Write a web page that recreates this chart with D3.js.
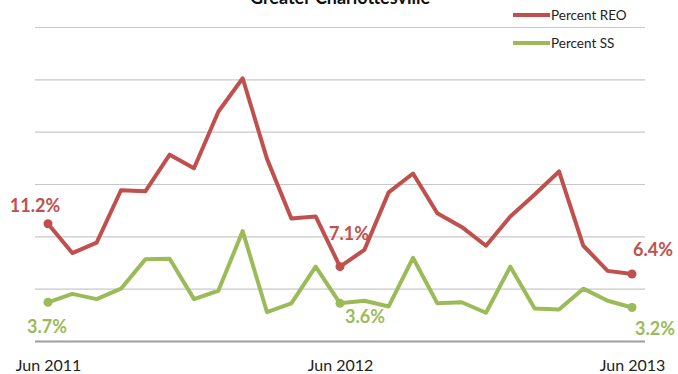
<!DOCTYPE html>
<html lang="en">
<head>
<meta charset="UTF-8">
<title>Greater Charlottesville</title>
<script src="https://d3js.org/d3.v7.min.js"></script>
<style>
body { margin: 0; background: #fff; }
svg { display: block; }
text { font-family: Lato, "Open Sans", sans-serif; }
</style>
</head>
<body>
<script>
const months = ["Jun 2011","Jul 2011","Aug 2011","Sep 2011","Oct 2011","Nov 2011","Dec 2011",
    "Jan 2012","Feb 2012","Mar 2012","Apr 2012","May 2012","Jun 2012","Jul 2012","Aug 2012",
    "Sep 2012","Oct 2012","Nov 2012","Dec 2012","Jan 2013","Feb 2013","Mar 2013","Apr 2013",
    "May 2013","Jun 2013"]
const reo = [11.2, 8.4, 9.4, 14.4, 14.3, 17.8, 16.5, 21.9, 25.1, 17.4, 11.7, 11.9, 7.1,
    8.7, 14.2, 16.0, 12.2, 10.9, 9.1, 11.9, 14.0, 16.2, 9.1, 6.7, 6.4]
const ss = [3.7, 4.5, 4.0, 5.0, 7.8, 7.85, 4.0, 4.8, 10.5, 2.75, 3.6, 7.1, 3.6,
    3.85, 3.3, 7.95, 3.6, 3.7, 2.7, 7.1, 3.1, 3.0, 5.0, 3.85, 3.2]
const yTicks = [0, 5, 10, 15, 20, 25, 30]
const xTicks = ["Jun 2011", "Jun 2012", "Jun 2013"]
const labelled = [0, 12, 24]

const width = 678, height = 374
const red = "#c0504d", green = "#9bbb59"

const svg = d3.select("body").append("svg")
    .attr("width", width).attr("height", height)

const x = d3.scaleLinear().domain([0, months.length - 1]).range([48, 632])
const y = d3.scaleLinear().domain([0, 30]).range([341, 27])

// gridlines
svg.append("g")
    .attr("transform", "translate(35,0)")
    .call(d3.axisLeft(y).tickValues(yTicks).tickSize(-610).tickFormat(""))
    .call(g => g.select(".domain").remove())
    .call(g => g.selectAll(".tick line")
        .attr("stroke", d => d === 0 ? "#a0a0a0" : "#c8c8c8")
        .attr("stroke-width", d => d === 0 ? 1.8 : 1.2))

// x axis labels
svg.append("g")
    .attr("transform", "translate(0,357)")
    .call(d3.axisBottom(x).tickValues(labelled).tickSize(0).tickFormat((i, k) => xTicks[k]))
    .call(g => g.select(".domain").remove())
    .call(g => g.selectAll("text")
        .attr("fill", "#222").attr("font-size", 16).attr("font-family", "Lato, sans-serif"))

const line = d3.line().x((d, i) => x(i)).y(d => y(d))

const series = [
    {name: "Percent REO", values: reo, color: red},
    {name: "Percent SS", values: ss, color: green}
]

series.forEach(s => {
    svg.append("path")
        .datum(s.values)
        .attr("fill", "none")
        .attr("stroke", s.color)
        .attr("stroke-width", 4)
        .attr("stroke-linejoin", "round")
        .attr("d", line)
    svg.selectAll(null)
        .data(labelled)
        .enter().append("circle")
        .attr("cx", i => x(i))
        .attr("cy", i => y(s.values[i]))
        .attr("r", 4.5)
        .attr("fill", s.color)
})

// value labels
const labelPos = [
    {s: reo, i: 0, dx: -13, dy: -19, c: red},
    {s: reo, i: 12, dx: 9, dy: -34, c: red},
    {s: reo, i: 24, dx: 21, dy: -25, c: red},
    {s: ss, i: 0, dx: -1, dy: 24, c: green},
    {s: ss, i: 12, dx: 25, dy: 13, c: green},
    {s: ss, i: 24, dx: 23, dy: 20, c: green}
]
svg.selectAll(".vlabel")
    .data(labelPos)
    .enter().append("text")
    .attr("class", "vlabel")
    .attr("x", d => x(d.i) + d.dx)
    .attr("y", d => y(d.s[d.i]) + d.dy)
    .attr("text-anchor", "middle")
    .attr("dominant-baseline", "central")
    .attr("font-size", 18)
    .attr("font-weight", "bold")
    .attr("fill", d => d.c)
    .text(d => d.s[d.i].toFixed(1) + "%")

// title, cut off at the top as in the source image
svg.append("text")
    .attr("x", 340).attr("y", 4)
    .attr("text-anchor", "middle")
    .attr("font-size", 18).attr("font-weight", "bold")
    .attr("fill", "#111")
    .text("Greater Charlottesville")

// legend
const legend = svg.append("g")
    .selectAll("g").data(series).enter().append("g")
    .attr("transform", (d, i) => `translate(513,${15 + i * 28})`)
legend.append("line")
    .attr("x1", 0).attr("x2", 37)
    .attr("stroke", d => d.color).attr("stroke-width", 4)
legend.append("text")
    .attr("x", 38).attr("dy", "0.35em")
    .attr("font-size", 13.5).attr("fill", "#222")
    .text(d => d.name)
</script>
</body>
</html>
